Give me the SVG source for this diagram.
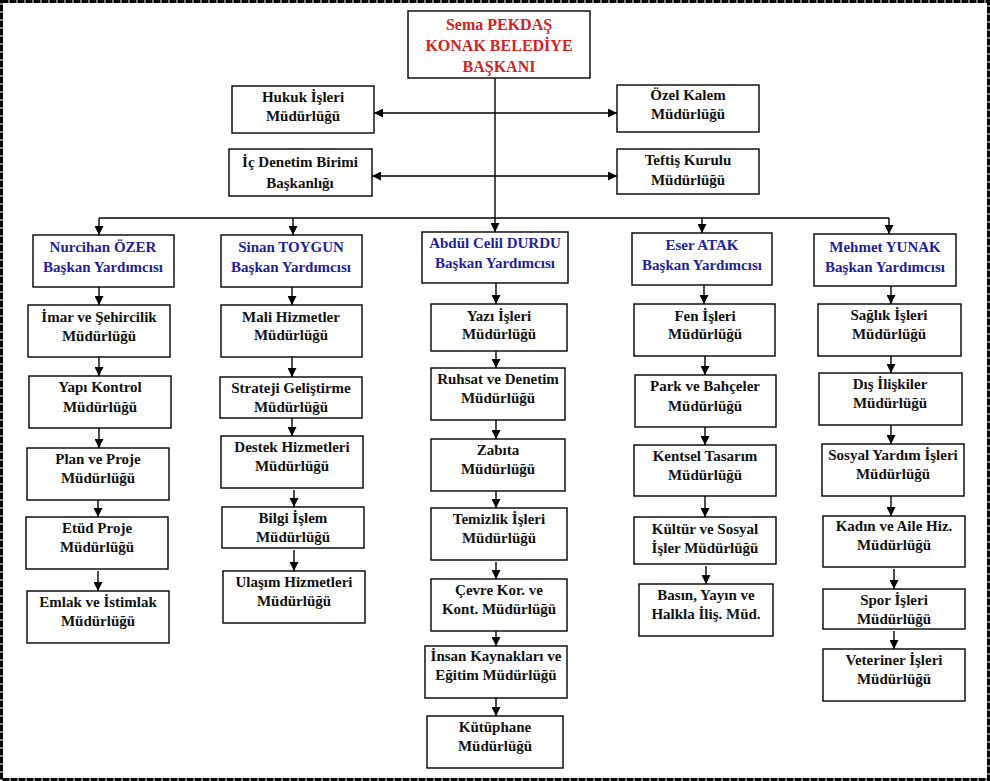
<svg xmlns="http://www.w3.org/2000/svg" width="990" height="781" viewBox="0 0 990 781">
<style>
.b{fill:#fff;stroke:#000;stroke-width:1.4}
text{font-family:"Liberation Serif","DejaVu Serif",serif;font-weight:bold;font-size:15px;text-anchor:middle;fill:#111}
.r{fill:#d42222;font-size:16px}
.d{fill:#1f1f9c}
.c{stroke:#000;stroke-width:1.4;fill:none}
</style>
<defs>
<marker id="a" viewBox="0 0 10 10" refX="10" refY="5" markerWidth="9" markerHeight="9" markerUnits="userSpaceOnUse" orient="auto-start-reverse">
<path d="M0,0 L10,5 L0,10 z" fill="#000"/>
</marker>
</defs>
<rect x="0" y="0" width="990" height="781" fill="#fff"/>
<rect x="1.5" y="1.5" width="987" height="778" fill="none" stroke="#000" stroke-width="3" stroke-dasharray="7 1"/>

<g id="connectors">
<line class="c" x1="374" y1="113" x2="617" y2="113" marker-start="url(#a)" marker-end="url(#a)"/>
<line class="c" x1="372" y1="176" x2="617" y2="176" marker-start="url(#a)" marker-end="url(#a)"/>
<line class="c" x1="495" y1="78" x2="495" y2="218"/>
<line class="c" x1="99" y1="218" x2="889" y2="218"/>
<line class="c" x1="99" y1="218" x2="99" y2="235" marker-end="url(#a)"/>
<line class="c" x1="293" y1="218" x2="293" y2="235" marker-end="url(#a)"/>
<line class="c" x1="495" y1="218" x2="495" y2="232" marker-end="url(#a)"/>
<line class="c" x1="702" y1="218" x2="702" y2="233" marker-end="url(#a)"/>
<line class="c" x1="889" y1="218" x2="889" y2="234" marker-end="url(#a)"/>
<line class="c" x1="99" y1="287" x2="99" y2="305" marker-end="url(#a)"/>
<line class="c" x1="99" y1="357" x2="99" y2="376" marker-end="url(#a)"/>
<line class="c" x1="99" y1="428" x2="99" y2="448" marker-end="url(#a)"/>
<line class="c" x1="98" y1="500" x2="98" y2="517" marker-end="url(#a)"/>
<line class="c" x1="98" y1="571" x2="98" y2="591" marker-end="url(#a)"/>
<line class="c" x1="292" y1="287" x2="292" y2="305" marker-end="url(#a)"/>
<line class="c" x1="292" y1="357" x2="292" y2="377" marker-end="url(#a)"/>
<line class="c" x1="292" y1="418" x2="292" y2="436" marker-end="url(#a)"/>
<line class="c" x1="294" y1="490" x2="294" y2="507" marker-end="url(#a)"/>
<line class="c" x1="294" y1="550" x2="294" y2="571" marker-end="url(#a)"/>
<line class="c" x1="496" y1="283" x2="496" y2="304" marker-end="url(#a)"/>
<line class="c" x1="496" y1="351" x2="496" y2="368" marker-end="url(#a)"/>
<line class="c" x1="496" y1="420" x2="496" y2="439" marker-end="url(#a)"/>
<line class="c" x1="496" y1="491" x2="496" y2="508" marker-end="url(#a)"/>
<line class="c" x1="496" y1="562" x2="496" y2="579" marker-end="url(#a)"/>
<line class="c" x1="496" y1="631" x2="496" y2="646" marker-end="url(#a)"/>
<line class="c" x1="496" y1="698" x2="496" y2="716" marker-end="url(#a)"/>
<line class="c" x1="704" y1="285" x2="704" y2="304" marker-end="url(#a)"/>
<line class="c" x1="705" y1="356" x2="705" y2="375" marker-end="url(#a)"/>
<line class="c" x1="705" y1="427" x2="705" y2="445" marker-end="url(#a)"/>
<line class="c" x1="705" y1="496" x2="705" y2="517" marker-end="url(#a)"/>
<line class="c" x1="706" y1="566" x2="706" y2="584" marker-end="url(#a)"/>
<line class="c" x1="891" y1="286" x2="891" y2="304" marker-end="url(#a)"/>
<line class="c" x1="891" y1="356" x2="891" y2="373" marker-end="url(#a)"/>
<line class="c" x1="891" y1="425" x2="891" y2="444" marker-end="url(#a)"/>
<line class="c" x1="891" y1="496" x2="891" y2="516" marker-end="url(#a)"/>
<line class="c" x1="894" y1="569" x2="894" y2="589" marker-end="url(#a)"/>
<line class="c" x1="894" y1="631" x2="894" y2="649" marker-end="url(#a)"/>
</g>

<g id="baskan"><rect class="b" x="408" y="11" width="182" height="67"/>
<text class="r" x="499" y="30">Sema PEKDAŞ</text><text class="r" x="499" y="51">KONAK BELEDİYE</text><text class="r" x="499" y="72">BAŞKANI</text></g>

<g id="hukuk"><rect class="b" x="232" y="86" width="142" height="47"/>
<text x="303" y="102">Hukuk İşleri</text><text x="303" y="121">Müdürlüğü</text></g>
<g id="ozel"><rect class="b" x="617" y="85" width="142" height="47"/>
<text x="688" y="100">Özel Kalem</text><text x="688" y="119">Müdürlüğü</text></g>
<g id="icdenetim"><rect class="b" x="229" y="149" width="143" height="47"/>
<text x="300" y="167">İç Denetim Birimi</text><text x="300" y="188">Başkanlığı</text></g>
<g id="teftis"><rect class="b" x="617" y="149" width="142" height="45"/>
<text x="688" y="165">Teftiş Kurulu</text><text x="688" y="185">Müdürlüğü</text></g>

<g id="ozer"><rect class="b" x="33" y="235" width="141" height="52"/>
<text class="d" x="103" y="252">Nurcihan ÖZER</text><text class="d" x="103" y="272">Başkan Yardımcısı</text></g>
<g id="toygun"><rect class="b" x="221" y="235" width="141" height="52"/>
<text class="d" x="291" y="252">Sinan TOYGUN</text><text class="d" x="291" y="272">Başkan Yardımcısı</text></g>
<g id="durdu"><rect class="b" x="422" y="232" width="146" height="51"/>
<text class="d" x="495" y="248">Abdül Celil DURDU</text><text class="d" x="495" y="268">Başkan Yardımcısı</text></g>
<g id="atak"><rect class="b" x="632" y="233" width="140" height="52"/>
<text class="d" x="702" y="250">Eser ATAK</text><text class="d" x="702" y="270">Başkan Yardımcısı</text></g>
<g id="yunak"><rect class="b" x="814" y="234" width="142" height="52"/>
<text class="d" x="885" y="252">Mehmet YUNAK</text><text class="d" x="885" y="272">Başkan Yardımcısı</text></g>

<g id="imar"><rect class="b" x="28" y="305" width="142" height="52"/>
<text x="99" y="322">İmar ve Şehircilik</text><text x="99" y="341">Müdürlüğü</text></g>
<g id="yapi"><rect class="b" x="29" y="376" width="142" height="52"/>
<text x="100" y="392">Yapı Kontrol</text><text x="100" y="412">Müdürlüğü</text></g>
<g id="plan"><rect class="b" x="27" y="448" width="142" height="52"/>
<text x="98" y="464">Plan ve Proje</text><text x="98" y="483">Müdürlüğü</text></g>
<g id="etud"><rect class="b" x="26" y="517" width="142" height="52"/>
<text x="97" y="533">Etüd Proje</text><text x="97" y="552">Müdürlüğü</text></g>
<g id="emlak"><rect class="b" x="27" y="591" width="142" height="52"/>
<text x="98" y="607">Emlak ve İstimlak</text><text x="98" y="626">Müdürlüğü</text></g>

<g id="mali"><rect class="b" x="221" y="305" width="141" height="52"/>
<text x="291" y="322">Mali Hizmetler</text><text x="291" y="340">Müdürlüğü</text></g>
<g id="strateji"><rect class="b" x="220" y="377" width="142" height="41"/>
<text x="291" y="393">Strateji Geliştirme</text><text x="291" y="412">Müdürlüğü</text></g>
<g id="destek"><rect class="b" x="221" y="436" width="142" height="52"/>
<text x="292" y="452">Destek Hizmetleri</text><text x="292" y="471">Müdürlüğü</text></g>
<g id="bilgi"><rect class="b" x="222" y="507" width="142" height="41"/>
<text x="293" y="523">Bilgi İşlem</text><text x="293" y="542">Müdürlüğü</text></g>
<g id="ulasim"><rect class="b" x="223" y="571" width="142" height="52"/>
<text x="294" y="587">Ulaşım Hizmetleri</text><text x="294" y="606">Müdürlüğü</text></g>

<g id="yazi"><rect class="b" x="431" y="304" width="136" height="47"/>
<text x="499" y="321">Yazı İşleri</text><text x="499" y="339">Müdürlüğü</text></g>
<g id="ruhsat"><rect class="b" x="431" y="368" width="134" height="52"/>
<text x="498" y="384">Ruhsat ve Denetim</text><text x="498" y="403">Müdürlüğü</text></g>
<g id="zabita"><rect class="b" x="431" y="439" width="134" height="52"/>
<text x="498" y="455">Zabıta</text><text x="498" y="474">Müdürlüğü</text></g>
<g id="temizlik"><rect class="b" x="431" y="508" width="136" height="52"/>
<text x="499" y="524">Temizlik İşleri</text><text x="499" y="543">Müdürlüğü</text></g>
<g id="cevre"><rect class="b" x="431" y="579" width="136" height="52"/>
<text x="499" y="595">Çevre Kor. ve</text><text x="499" y="614">Kont. Müdürlüğü</text></g>
<g id="insan"><rect class="b" x="425" y="646" width="142" height="52"/>
<text x="496" y="661">İnsan Kaynakları ve</text><text x="496" y="680">Eğitim Müdürlüğü</text></g>
<g id="kutuphane"><rect class="b" x="427" y="716" width="136" height="52"/>
<text x="495" y="732">Kütüphane</text><text x="495" y="751">Müdürlüğü</text></g>

<g id="fen"><rect class="b" x="634" y="304" width="141" height="52"/>
<text x="705" y="321">Fen İşleri</text><text x="705" y="339">Müdürlüğü</text></g>
<g id="park"><rect class="b" x="635" y="375" width="141" height="52"/>
<text x="705" y="391">Park ve Bahçeler</text><text x="705" y="411">Müdürlüğü</text></g>
<g id="kentsel"><rect class="b" x="634" y="445" width="142" height="51"/>
<text x="705" y="461">Kentsel Tasarım</text><text x="705" y="480">Müdürlüğü</text></g>
<g id="kultur"><rect class="b" x="634" y="517" width="142" height="47"/>
<text x="705" y="534">Kültür ve Sosyal</text><text x="705" y="553">İşler Müdürlüğü</text></g>
<g id="basin"><rect class="b" x="639" y="584" width="134" height="52"/>
<text x="706" y="600">Basın, Yayın ve</text><text x="706" y="619">Halkla İliş. Müd.</text></g>

<g id="saglik"><rect class="b" x="818" y="304" width="143" height="52"/>
<text x="889" y="320">Sağlık İşleri</text><text x="889" y="339">Müdürlüğü</text></g>
<g id="dis"><rect class="b" x="819" y="373" width="143" height="52"/>
<text x="890" y="389">Dış İlişkiler</text><text x="890" y="408">Müdürlüğü</text></g>
<g id="sosyal"><rect class="b" x="822" y="444" width="142" height="52"/>
<text x="893" y="460">Sosyal Yardım İşleri</text><text x="893" y="479">Müdürlüğü</text></g>
<g id="kadin"><rect class="b" x="823" y="516" width="142" height="51"/>
<text x="894" y="531">Kadın ve Aile Hiz.</text><text x="894" y="550">Müdürlüğü</text></g>
<g id="spor"><rect class="b" x="823" y="589" width="142" height="40"/>
<text x="894" y="605">Spor İşleri</text><text x="894" y="624">Müdürlüğü</text></g>
<g id="veteriner"><rect class="b" x="823" y="649" width="142" height="52"/>
<text x="894" y="665">Veteriner İşleri</text><text x="894" y="684">Müdürlüğü</text></g>
</svg>
